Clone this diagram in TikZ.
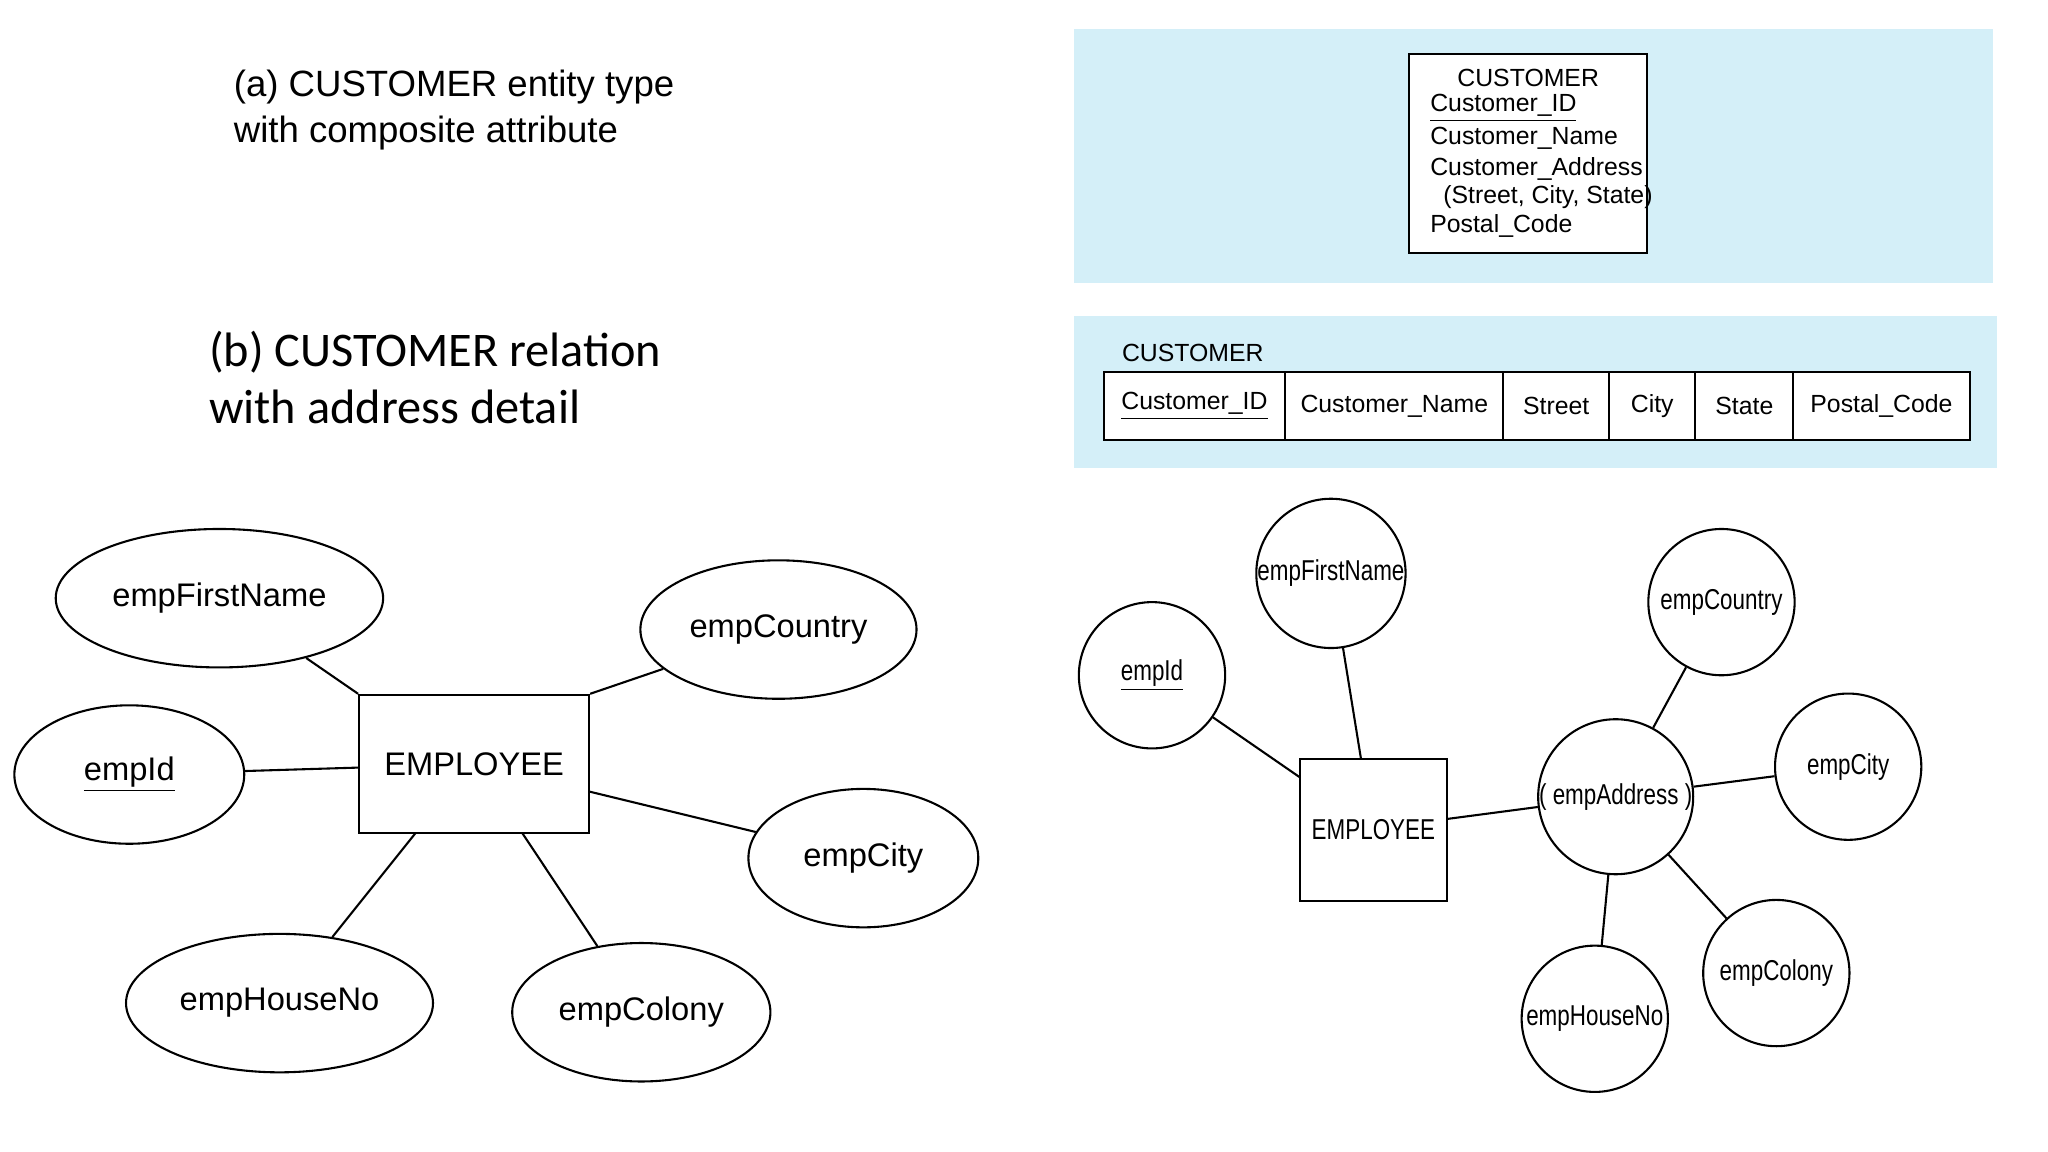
\documentclass[tikz,border=0pt]{standalone}
\usepackage{fontspec}
\usetikzlibrary{shapes.geometric}
\setmainfont{Liberation Sans}
\newfontfamily\narrowfont[FakeStretch=0.78]{Liberation Sans}
\newfontfamily\calfont{Carlito}
\definecolor{lblue}{RGB}{212,239,248}
\begin{document}
\begin{tikzpicture}[x=0.5pt,y=-0.5pt,
  ell/.style={draw,thick,ellipse,minimum width=88pt,minimum height=53pt,font=\fontsize{12.5}{14}\selectfont},
  circ/.style={draw,thick,circle,minimum size=56pt,inner sep=0pt,font=\narrowfont\fontsize{11}{13}\selectfont},
  ent/.style={draw,thick,rectangle,inner sep=0pt},
  ln/.style={thick}]
\useasboundingbox (0,0) rectangle (1568,882);
% (a) title
\node[anchor=west,align=left,font=\fontsize{14}{17.5}\selectfont] (ta) at (172,84) {(a) CUSTOMER entity type\\with composite attribute};
\node[anchor=west,align=left,font=\calfont\fontsize{18.5}{21.5}\selectfont] (tb) at (153,289) {(b) CUSTOMER relation\\with address detail};
% top blue box
\fill[lblue] (822,22) rectangle (1526,217);
\node[ent,fill=white,minimum width=91pt,minimum height=76.5pt] (cb) at (1170,117.5) {};
\begin{scope}[font=\fontsize{9.5}{11}\selectfont]
\node (c0) at (1170,60) {CUSTOMER};
\node[anchor=west] (c1) at (1088,83) {\underline{Customer\_ID}};
\node[anchor=west] (c2) at (1088,106) {Customer\_Name};
\node[anchor=west] (c3) at (1088,129) {Customer\_Address};
\node[anchor=west] (c4) at (1098,151) {(Street, City, State)};
\node[anchor=west] (c5) at (1088,173) {Postal\_Code};
\end{scope}
% second blue box
\fill[lblue] (822,242) rectangle (1529,358);
\node[anchor=west,font=\fontsize{9.5}{11}\selectfont] (cu) at (852,270) {CUSTOMER};
\draw[thick,fill=white] (845,285) rectangle (1508,337);
\foreach \x in {984,1151,1232,1298,1373} \draw[thick] (\x,285) -- (\x,337);
\begin{scope}[font=\fontsize{9.5}{11}\selectfont]
\node (k1) at (914.5,311) {\underline{Customer\_ID}};
\node (k2) at (1067.5,311) {Customer\_Name};
\node (k3) at (1191.5,311) {Street};
\node (k4) at (1265,311) {City};
\node (k5) at (1335.5,311) {State};
\node (k6) at (1440.5,311) {Postal\_Code};
\end{scope}
% left ER
\node[ent,minimum width=88pt,minimum height=53pt,font=\fontsize{12.5}{14}\selectfont] (E1) at (363,585) {EMPLOYEE};
\node[ell] (fn) at (168,458) {empFirstName};
\node[ell] (id) at (99,593) {\underline{empId}};
\node[ell] (co) at (596,482) {empCountry};
\node[ell] (ci) at (661,657) {empCity};
\node[ell] (hn) at (214,768) {empHouseNo};
\node[ell] (cl) at (491,775) {empColony};
\draw[ln] (fn) -- (E1.north west) ;
\draw[ln] (id) -- (E1);
\draw[ln] (co) -- (E1.north east);
\draw[ln] (ci) -- (451,606);
\draw[ln] (hn) -- (318,638);
\draw[ln] (cl) -- (400,638);
% right ER
\node[ent,minimum width=56.5pt,minimum height=54.5pt,font=\narrowfont\fontsize{11}{13}\selectfont] (E2) at (1051.5,635.5) {EMPLOYEE};
\node[circ] (rid) at (882,517) {\underline{empId}};
\node[circ] (rfn) at (1019,439) {empFirstName};
\node[circ] (rco) at (1318,461) {empCountry};
\node[circ] (rci) at (1415,587) {empCity};
\node[circ] (rad) at (1237,610) {( empAddress )};
\node[circ] (rcl) at (1360,745) {empColony};
\node[circ] (rhn) at (1221,780) {empHouseNo};
\draw[ln] (rid) -- (995,595);
\draw[ln] (rfn) -- (1042,581);
\draw[ln] (1108,627) -- (rad);
\draw[ln] (rad) -- (rco);
\draw[ln] (rad) -- (rci);
\draw[ln] (rad) -- (rcl);
\draw[ln] (rad) -- (rhn);
\end{tikzpicture}
\end{document}
